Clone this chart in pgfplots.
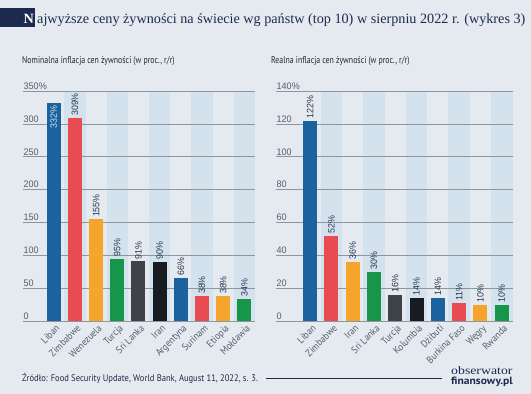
\documentclass[border=0pt]{standalone}
\usepackage{pgfplots}
\pgfplotsset{compat=1.18}
\usepackage{fontspec}
\setmainfont{PT Sans}
\newfontfamily\titlefont{Liberation Serif}
\newfontfamily\narrow{PT Sans}[FakeStretch=0.8]
\newfontfamily\footfont{PT Sans}[FakeStretch=0.9]
\newfontfamily\numfont{Liberation Sans}[FakeStretch=0.95]
\newfontfamily\logoserif{Liberation Serif}[FakeStretch=1.2]
\newfontfamily\logosans{PT Sans}[FakeStretch=1.1]
\definecolor{bg}{HTML}{E4EAEF}
\definecolor{band}{HTML}{D3E2ED}
\definecolor{gridc}{HTML}{8E959C}
\definecolor{navy}{HTML}{1C2A4F}
\definecolor{lbl}{HTML}{2A3754}
\definecolor{tickc}{HTML}{565E6C}
\definecolor{cblue}{HTML}{1B62A0}
\definecolor{cred}{HTML}{E84B52}
\definecolor{corange}{HTML}{F5A42C}
\definecolor{cgreen}{HTML}{17964A}
\definecolor{cgray}{HTML}{3F4347}
\definecolor{cblack}{HTML}{181B1F}
\pgfplotsset{
  mybars/.style={
    scale only axis,
    ybar, bar width=14pt, bar shift=0pt,
    ymin=0,
    axis line style={draw=none},
    major tick length=0pt,
    ymajorgrids, grid style={color=gridc, line width=0.6pt},
    xtick={0,...,9},
    xticklabel style={rotate=45, anchor=north east, font=\footfont\fontsize{10}{10}\selectfont, text=tickc, inner sep=1pt, yshift=-2pt},
    yticklabel style={anchor=south west, inner sep=0.5pt, yshift=0.8pt, font=\numfont\fontsize{9.5}{9.5}\selectfont, text=tickc},
    /pgf/number format/assume math mode=true,
    nodes near coords={\pgfmathprintnumber{\pgfplotspointmeta}\%},
    every node near coord/.append style={rotate=90, anchor=west, font=\numfont\fontsize{9.3}{9}\selectfont, text=lbl, inner sep=2pt},
    clip=false,
  },
  bandaxis/.style={scale only axis, hide axis, ymin=0},
}
\begin{document}
\begin{tikzpicture}
\fill[bg] (0pt,0pt) rectangle (531pt,-394pt);
\useasboundingbox (0pt,0pt) rectangle (531pt,-394pt);
% title
\fill[navy] (0pt,-8pt) rectangle (35pt,-27pt);
\node[anchor=base east, text=white, inner sep=0pt, font=\titlefont\fontsize{14.2}{14}\selectfont\bfseries] at (34pt,-23pt) {N};
\node[anchor=base west, text=navy, inner sep=0pt, font=\titlefont\fontsize{14.2}{14}\selectfont] at (37pt,-23pt) {ajwyższe ceny żywności na świecie wg państw (top 10) w sierpniu 2022 r. (wykres 3)};
% subtitles
\node[anchor=west, text=black!85, inner sep=0pt, font=\narrow\fontsize{9.8}{9.5}\selectfont] at (22pt,-61pt) {Nominalna inflacja cen żywności (w proc., r/r)};
\node[anchor=west, text=black!85, inner sep=0pt, font=\narrow\fontsize{9.8}{9.5}\selectfont] at (271pt,-61pt) {Realna inflacja cen żywności (w proc., r/r)};
% left bands
\begin{axis}[bandaxis, at={(23pt,-321pt)}, anchor=south west, width=232pt, height=230pt,
  xmin=-1.45, xmax=9.5, ymax=350]
\fill[band] (axis cs:0.5,0) rectangle (axis cs:1.5,350);
\fill[band] (axis cs:2.5,0) rectangle (axis cs:3.5,350);
\fill[band] (axis cs:4.5,0) rectangle (axis cs:5.5,350);
\fill[band] (axis cs:6.5,0) rectangle (axis cs:7.5,350);
\fill[band] (axis cs:8.5,0) rectangle (axis cs:9.5,350);
\end{axis}
% left chart
\begin{axis}[mybars, at={(23pt,-321pt)}, anchor=south west, width=232pt, height=230pt,
  xmin=-1.45, xmax=9.5, ymax=350,
  ytick={0,50,100,150,200,250,300,350},
  yticklabels={0,50,100,150,200,250,300,350\%},
  xticklabels={Liban,Zimbabwe,Wenezuela,Turcja,Sri Lanka,Iran,Argentyna,Surinam,Etiopia,Mołdawia}]
\addplot[draw=none, fill=cblue, nodes near coords style={anchor=east, text=white!80!cblue, inner sep=3pt}] coordinates {(0,332)};
\addplot[draw=none, fill=cred] coordinates {(1,309)};
\addplot[draw=none, fill=corange] coordinates {(2,155)};
\addplot[draw=none, fill=cgreen] coordinates {(3,95)};
\addplot[draw=none, fill=cgray] coordinates {(4,91)};
\addplot[draw=none, fill=cblack] coordinates {(5,90)};
\addplot[draw=none, fill=cblue] coordinates {(6,66)};
\addplot[draw=none, fill=cred] coordinates {(7,38)};
\addplot[draw=none, fill=corange] coordinates {(8,38)};
\addplot[draw=none, fill=cgreen] coordinates {(9,34)};
\end{axis}
% right bands
\begin{axis}[bandaxis, at={(276pt,-321pt)}, anchor=south west, width=237pt, height=230pt,
  xmin=-1.6, xmax=9.53, ymax=140]
\fill[band] (axis cs:0.5,0) rectangle (axis cs:1.5,140);
\fill[band] (axis cs:2.5,0) rectangle (axis cs:3.5,140);
\fill[band] (axis cs:4.5,0) rectangle (axis cs:5.5,140);
\fill[band] (axis cs:6.5,0) rectangle (axis cs:7.5,140);
\fill[band] (axis cs:8.5,0) rectangle (axis cs:9.53,140);
\end{axis}
% right chart
\begin{axis}[mybars, at={(276pt,-321pt)}, anchor=south west, width=237pt, height=230pt,
  xmin=-1.6, xmax=9.53, ymax=140,
  ytick={0,20,40,60,80,100,120,140},
  yticklabels={0,20,40,60,80,100,120,140\%},
  xticklabels={Liban,Zimbabwe,Iran,Sri Lanka,Turcja,Kolumbia,Dżibuti,Burkina Faso,Węgry,Rwanda}]
\addplot[draw=none, fill=cblue] coordinates {(0,122)};
\addplot[draw=none, fill=cred] coordinates {(1,52)};
\addplot[draw=none, fill=corange] coordinates {(2,36)};
\addplot[draw=none, fill=cgreen] coordinates {(3,30)};
\addplot[draw=none, fill=cgray] coordinates {(4,16)};
\addplot[draw=none, fill=cblack] coordinates {(5,14)};
\addplot[draw=none, fill=cblue] coordinates {(6,14)};
\addplot[draw=none, fill=cred] coordinates {(7,11)};
\addplot[draw=none, fill=corange] coordinates {(8,10)};
\addplot[draw=none, fill=cgreen] coordinates {(9,10)};
\end{axis}
% footer
\node[anchor=west, text=navy, inner sep=0pt, font=\footfont\fontsize{9.5}{9.5}\selectfont] at (22pt,-378pt) {Źródło: Food Security Update, World Bank, August 11, 2022, s. 3.};
\draw[navy, line width=0.8pt] (266pt,-378pt) -- (442pt,-378pt);
\node[anchor=base west, text=navy, inner sep=0pt, font=\logoserif\fontsize{11.5}{11}\selectfont] at (451pt,-374pt) {obserwator};
\node[anchor=base west, text=navy, inner sep=0pt, font=\logosans\fontsize{10.5}{10}\selectfont\bfseries] at (451pt,-384pt) {finansowy.pl};
\end{tikzpicture}
\end{document}
